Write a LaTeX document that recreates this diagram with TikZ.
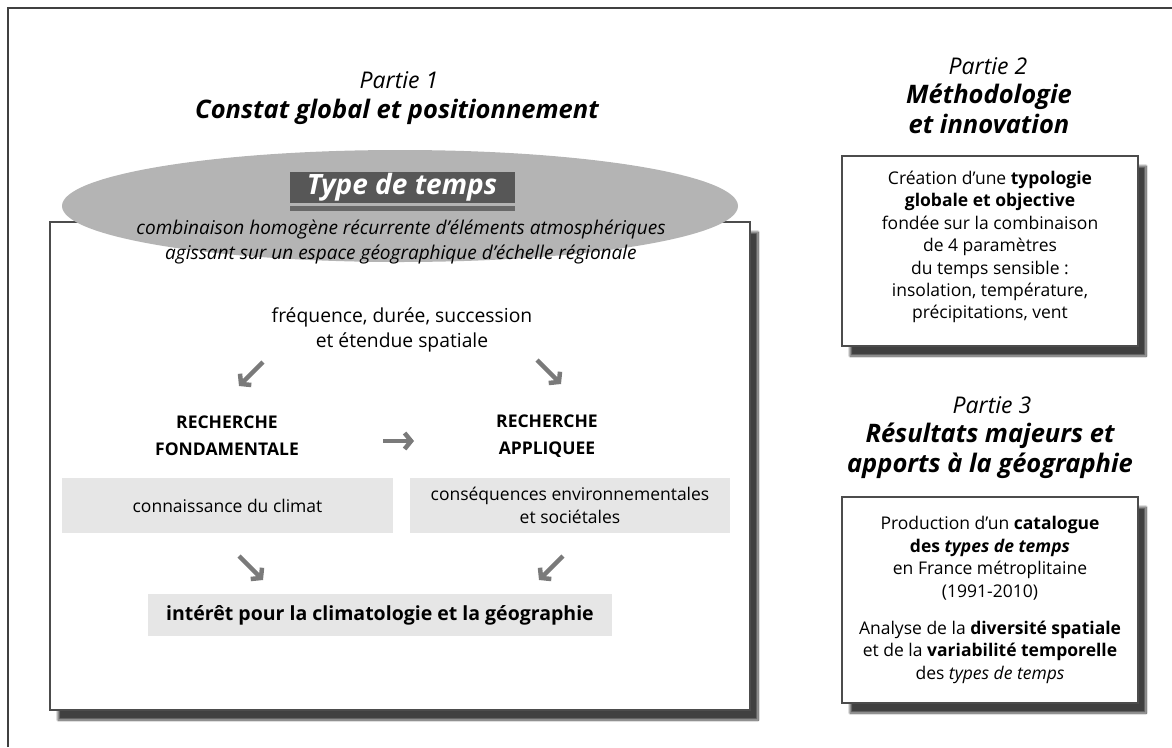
\documentclass[tikz,border=0pt]{standalone}
\usepackage{fontspec}
\setmainfont{Open Sans}
\usetikzlibrary{shadows.blur,arrows.meta,shapes.geometric}
\definecolor{ellgray}{HTML}{B4B4B4}
\definecolor{darkbox}{HTML}{575757}
\definecolor{lightbox}{HTML}{E6E6E6}
\definecolor{arrgray}{HTML}{7A7A7A}
\begin{document}
\begin{tikzpicture}[x=1pt,y=-1pt,
  framebox/.style={draw=black!70,line width=1.2pt,fill=white,
    blur shadow={shadow xshift=8pt,shadow yshift=-10pt,shadow blur steps=14,shadow opacity=75}},
  graybox/.style={fill=lightbox,inner sep=0pt},
  body/.style={font=\fontsize{17.5}{22.4}\selectfont,align=center,inner sep=0pt},
  partlbl/.style={font=\fontsize{23}{26}\selectfont\itshape,inner sep=0pt},
  parttitle/.style={font=\fontsize{25.5}{30}\selectfont\bfseries\itshape,align=center,inner sep=0pt},
  bigarrow/.style={draw=arrgray,line width=4.5pt,-{Straight Barb[length=6.5pt,width=16pt]}}
]
\useasboundingbox (0,0) rectangle (1172,747);
% outer frame
\coordinate (fbl) at (8,747);
\coordinate (ftl) at (8,8);
\coordinate (ftr) at (1172,8);
\draw[line width=1.5pt,black!75] (fbl) -- (ftl) -- (ftr);

% Part 1 headings
\node[partlbl] (p1) at (399,80) {Partie 1};
\node[parttitle] (t1) at (397,112) {Constat global et positionnement};

% main box
\node[framebox,minimum width=700pt,minimum height=488pt,inner sep=0pt] (main) at (400,466) {};

% ellipse
\node[ellipse,fill=ellgray,minimum width=676pt,minimum height=112pt,inner sep=0pt] (ell) at (400,206) {};
\node[fill=darkbox,minimum width=225pt,minimum height=31pt,inner sep=0pt,text=white,
  font=\fontsize{28}{30}\selectfont\bfseries\itshape] (type) at (402,187.5) {Type de temps};
\node[fill=darkbox!90!white,minimum width=225pt,minimum height=4.5pt,inner sep=0pt] (typebar) at (402,208.5) {};
\node[body,font=\fontsize{19}{24.5}\selectfont\itshape] (def) at (401,242) {combinaison homogène récurrente d'éléments atmosphériques\\agissant sur un espace géographique d'échelle régionale};

% frequency
\node[body,font=\fontsize{19.3}{25}\selectfont] (freq) at (402,330) {fréquence, durée, succession\\et étendue spatiale};

% arrows top
\coordinate (a1s) at (263,362);
\coordinate (a1e) at (239,386);
\coordinate (a2s) at (537,360);
\coordinate (a2e) at (561,384);
\draw[bigarrow] (a1s) -- (a1e);
\draw[bigarrow] (a2s) -- (a2e);

% recherche headings
\node[body,font=\fontsize{17.5}{27}\selectfont\bfseries] (rf) at (227,436) {RECHERCHE\\FONDAMENTALE};
\node[body,font=\fontsize{17.5}{27}\selectfont\bfseries] (ra) at (547,436) {RECHERCHE\\APPLIQUEE};
\coordinate (a3s) at (383,441);
\coordinate (a3e) at (414,441);
\draw[bigarrow] (a3s) -- (a3e);

% gray boxes
\node[graybox,minimum width=331pt,minimum height=55pt] (conn) at (227.5,505.5) {};
\node[body] at (conn) {connaissance du climat};
\node[graybox,minimum width=320pt,minimum height=55pt] (cons) at (570,505.5) {};
\node[body] at (cons) {conséquences environnementales\\et sociétales};

% arrows bottom
\coordinate (a4s) at (239,556);
\coordinate (a4e) at (263,580);
\coordinate (a5s) at (563,556);
\coordinate (a5e) at (539,580);
\draw[bigarrow] (a4s) -- (a4e);
\draw[bigarrow] (a5s) -- (a5e);

\node[graybox,minimum width=464pt,minimum height=42pt] (inter) at (380,615) {};
\node[body,font=\fontsize{19.5}{22}\selectfont\bfseries] at (inter) {intérêt pour la climatologie et la géographie};

% Part 2
\node[partlbl] (p2) at (988,66) {Partie 2};
\node[parttitle] (t2) at (989,109) {Méthodologie\\et innovation};
\node[framebox,minimum width=296pt,minimum height=190pt,inner sep=0pt] (box2) at (990,251) {};
\node[body] (txt2) at (990,247) {Création d'une \textbf{typologie}\\\textbf{globale et objective}\\fondée sur la combinaison\\de 4 paramètres\\du temps sensible :\\insolation, température,\\précipitations, vent};

% Part 3
\node[partlbl] (p3) at (992,405) {Partie 3};
\node[parttitle] (t3) at (990,451) {Résultats majeurs et\\apports à la géographie};
\node[framebox,minimum width=296pt,minimum height=206pt,inner sep=0pt] (box3) at (990,600) {};
\node[body] (txt3) at (box3) {Production d'un \textbf{catalogue}\\\textbf{des \textit{types de temps}}\\en France métroplitaine\\(1991-2010)\\[15pt]Analyse de la \textbf{diversité spatiale}\\et de la \textbf{variabilité temporelle}\\des \textit{types de temps}};
\end{tikzpicture}
\end{document}
